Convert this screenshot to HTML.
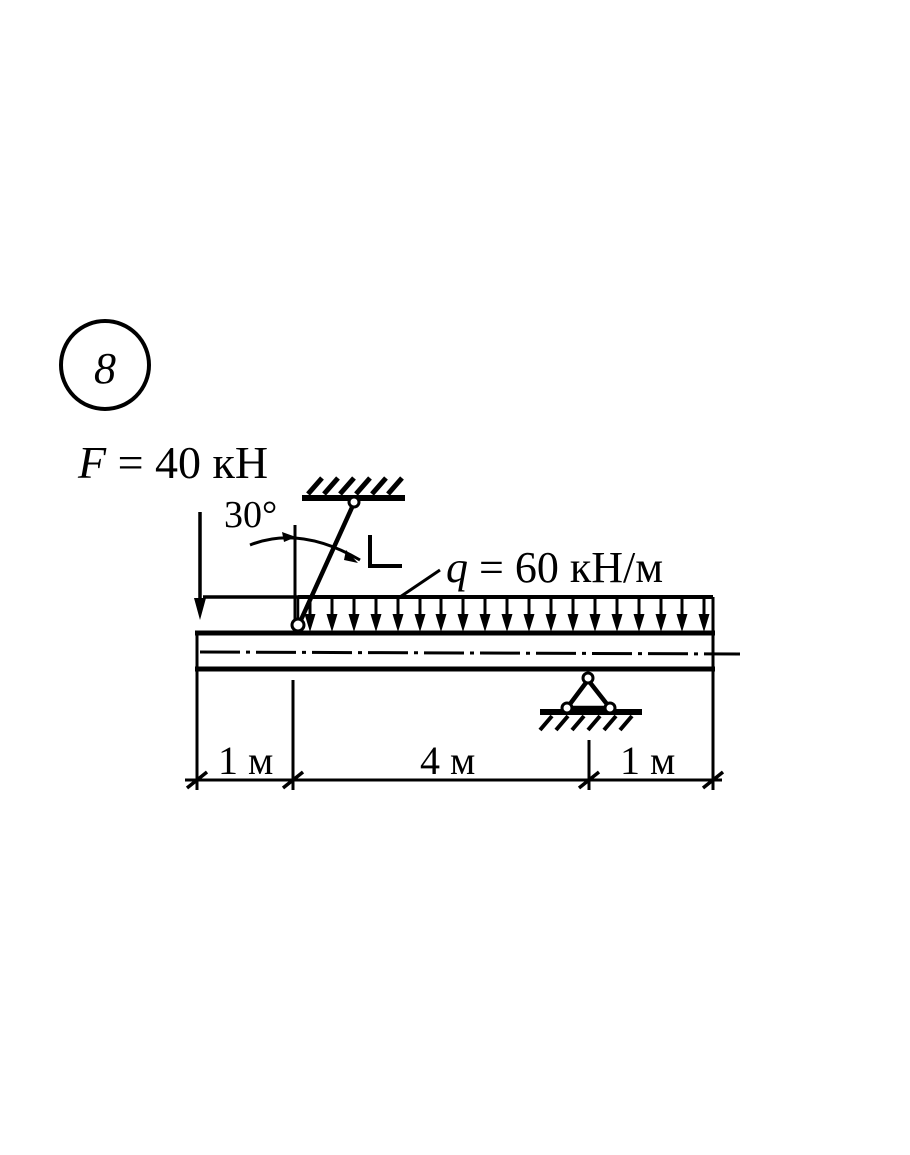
<!DOCTYPE html>
<html><head><meta charset="utf-8"><style>
html,body{margin:0;padding:0;background:#fff;}
svg{display:block;}
text{font-family:"Liberation Serif",serif;fill:#000;}
</style></head><body>
<svg width="910" height="1155" viewBox="0 0 910 1155" xmlns="http://www.w3.org/2000/svg">
<rect width="910" height="1155" fill="#fff"/>
<circle cx="105" cy="365" r="44" fill="none" stroke="#000" stroke-width="4"/>
<text x="105" y="383" font-size="44" font-style="italic" text-anchor="middle">8</text>
<text x="78" y="478" font-size="46"><tspan font-style="italic">F</tspan> = 40 кН</text>
<text x="224" y="527" font-size="38">30°</text>
<text x="446" y="582" font-size="44"><tspan font-style="italic">q</tspan> = 60 кН/м</text>
<g stroke="#000" fill="none">
<line x1="200" y1="512" x2="200" y2="612" stroke-width="3.5"/>
<polygon points="194,598 206,598 200,620" fill="#000" stroke="none"/>
<line x1="203" y1="597" x2="298" y2="597" stroke-width="3.5"/>
<line x1="195" y1="633" x2="715" y2="633" stroke-width="5"/>
<line x1="195" y1="669" x2="715" y2="669" stroke-width="5"/>
<line x1="197" y1="633" x2="197" y2="790" stroke-width="3"/>
<line x1="713" y1="597" x2="713" y2="790" stroke-width="3"/>
<line x1="200" y1="652" x2="740" y2="654" stroke-width="3" stroke-dasharray="40,6,4,6"/>
<line x1="298" y1="597" x2="713" y2="597" stroke-width="4"/>
<line x1="298" y1="597" x2="298" y2="633" stroke-width="2.5"/>
<line x1="302" y1="498" x2="405" y2="498" stroke-width="6"/>
<g stroke-width="5">
<line x1="308" y1="494" x2="322" y2="478"/><line x1="324" y1="494" x2="338" y2="478"/>
<line x1="340" y1="494" x2="354" y2="478"/><line x1="356" y1="494" x2="370" y2="478"/>
<line x1="372" y1="494" x2="386" y2="478"/><line x1="388" y1="494" x2="402" y2="478"/>
</g>
<line x1="354" y1="503" x2="300" y2="622" stroke-width="4.5"/>
<circle cx="354" cy="502" r="5" fill="#fff" stroke-width="3"/>
<circle cx="298" cy="625" r="6" fill="#fff" stroke-width="3"/>
<line x1="295" y1="525" x2="295" y2="620" stroke-width="3"/>
<path d="M250 545 Q300 525 360 560" stroke-width="3"/>
<polygon points="282,532 296,537 284,542" fill="#000" stroke="none"/>
<polygon points="346,550 358,563 344,560" fill="#000" stroke="none"/>
<path d="M370 535 L370 566 L402 566" stroke-width="4"/>
<line x1="400" y1="597" x2="440" y2="570" stroke-width="3"/>
<line x1="185" y1="780" x2="722" y2="780" stroke-width="3"/>
<line x1="293" y1="680" x2="293" y2="790" stroke-width="3"/>
<line x1="589" y1="740" x2="589" y2="790" stroke-width="3"/>
<g stroke-width="3.5">
<line x1="187" y1="788" x2="207" y2="772"/><line x1="283" y1="788" x2="303" y2="772"/>
<line x1="579" y1="788" x2="599" y2="772"/><line x1="703" y1="788" x2="723" y2="772"/>
</g>
<polygon points="588,680 567,708 610,708" stroke-width="4.5"/>
<line x1="540" y1="712" x2="642" y2="712" stroke-width="6"/>
<g stroke-width="4">
<line x1="540" y1="730" x2="552" y2="716"/><line x1="556" y1="730" x2="568" y2="716"/>
<line x1="572" y1="730" x2="584" y2="716"/><line x1="588" y1="730" x2="600" y2="716"/>
<line x1="604" y1="730" x2="616" y2="716"/><line x1="620" y1="730" x2="632" y2="716"/>
</g>
<circle cx="588" cy="678" r="5" fill="#fff" stroke-width="3"/>
<circle cx="567" cy="708" r="5" fill="#fff" stroke-width="3"/>
<circle cx="610" cy="708" r="5" fill="#fff" stroke-width="3"/>
</g>
<defs><g id="a"><line x1="0" y1="597" x2="0" y2="620" stroke="#000" stroke-width="3"/><polygon points="-5.5,614 5.5,614 0,632" fill="#000"/></g></defs>
<use href="#a" x="310"/><use href="#a" x="332"/><use href="#a" x="354"/><use href="#a" x="376"/>
<use href="#a" x="398"/><use href="#a" x="420"/><use href="#a" x="441"/><use href="#a" x="463"/>
<use href="#a" x="485"/><use href="#a" x="507"/><use href="#a" x="529"/><use href="#a" x="551"/>
<use href="#a" x="573"/><use href="#a" x="595"/><use href="#a" x="617"/><use href="#a" x="639"/>
<use href="#a" x="661"/><use href="#a" x="682"/><use href="#a" x="704"/>
<text x="218" y="774" font-size="40">1 м</text>
<text x="420" y="774" font-size="40">4 м</text>
<text x="620" y="774" font-size="40">1 м</text>
</svg>
</body></html>
